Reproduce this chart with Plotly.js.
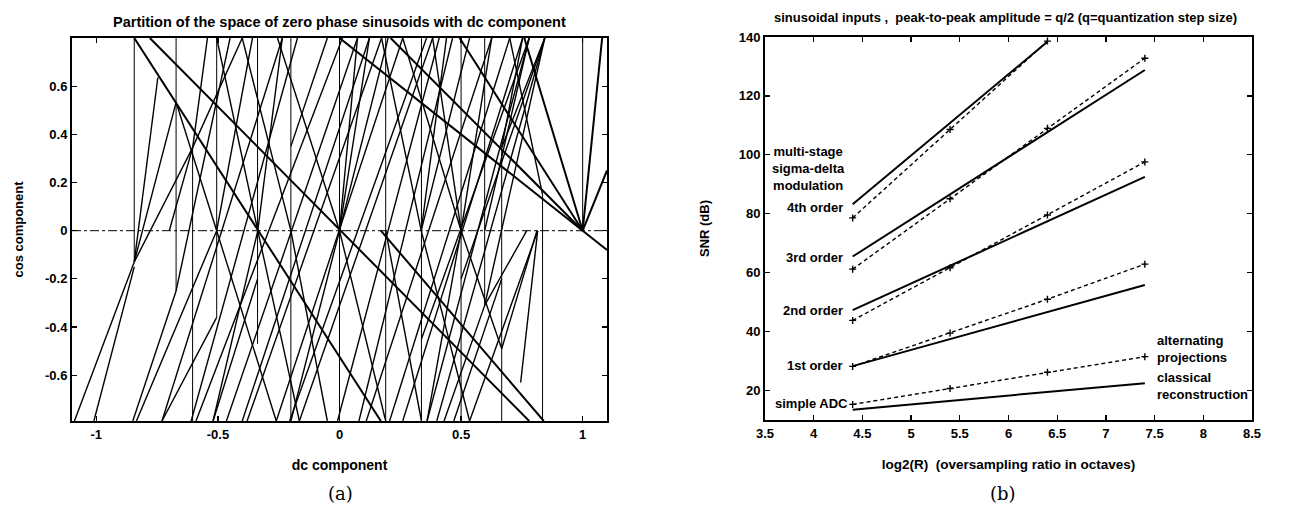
<!DOCTYPE html>
<html>
<head>
<meta charset="utf-8">
<script src="https://cdn.plot.ly/plotly-3.0.1.min.js"></script>
<style>
html,body{margin:0;padding:0;background:#fff;}
#chart{width:1314px;height:511px;}
</style>
</head>
<body>
<div id="chart"></div>
<script>
// ---------- Panel (a): partition lines ----------
const vertX   = [-0.844, -0.672, -0.604, -0.505, -0.337, -0.2, 0.0, 0.19, 0.337, 0.5, 0.597, 0.667, 0.835, 1.0];
const vertTop = [0.8, 0.8, 0.345, 0.8, 0.8, 0.8, 0.8, 0.8, 0.8, 0.8, 0.8, 0.345, 0.15, 0.8];
const vertBot = [-0.13, -0.25, -0.79, -0.36, -0.47, -0.79, -0.77, -0.79, -0.79, -0.79, -0.31, -0.79, -0.79, 0.0];

// thick boundary segments [x0, y0, x1, y1]
const thickSegs = [
  [-0.844, 0.8, 0.17, -0.79],
  [-0.78, 0.8, 0.78, -0.79],
  [0.0, 0.8, 1.1, -0.08],
  [0.21, 0.8, 1.0, 0.0],
  [0.494, 0.8, 1.0, 0.0],
  [0.76, 0.8, 1.0, 0.0],
  [0.17, 0.0, 0.84, -0.79],
  [1.0, 0.0, 1.1, 0.25],
  [1.0, 0.0, 1.08, 0.8]
];

// thin boundary segments [x0, y0, x1, y1]
const thinSegs = [
  [-1.09, -0.79, -0.844, -0.13],
  [-1.01, -0.79, -0.844, -0.15],
  [-0.844, -0.13, -0.747, 0.636],
  [-0.844, -0.13, -0.672, 0.533],
  [-0.844, -0.13, -0.604, 0.345],
  [-0.85, -0.79, -0.672, -0.25],
  [-0.835, -0.79, -0.505, 0.0],
  [-0.73, -0.79, -0.505, -0.36],
  [-0.604, 0.345, -0.543, 0.8],
  [-0.604, 0.345, -0.40, 0.8],
  [-0.604, 0.345, -0.70, 0.0],
  [-0.505, 0.0, -0.358, 0.8],
  [-0.505, 0.0, -0.26, -0.79],
  [-0.505, 0.0, -0.672, 0.533],
  [-0.336, 0.0, -0.235, 0.8],
  [-0.336, 0.0, -0.505, 0.8],
  [-0.336, 0.0, -0.52, -0.79],
  [-0.336, 0.0, -0.165, -0.79],
  [0.0, 0.0, -0.255, 0.8],
  [0.0, 0.0, 0.2, 0.8],
  [0.0, 0.0, 0.074, 0.8],
  [0.0, 0.0, 0.123, 0.8],
  [0.0, 0.0, -0.2, -0.79],
  [0.0, 0.0, 0.19, -0.79],
  [0.336, 0.0, 0.44, 0.8],
  [0.336, 0.0, 0.535, 0.8],
  [0.336, 0.0, 0.173, 0.8],
  [0.336, 0.0, 0.535, -0.79],
  [0.5, 0.0, 0.626, 0.8],
  [0.5, 0.0, 0.383, 0.8],
  [0.5, 0.0, 0.36, -0.79],
  [0.5, 0.0, 0.667, -0.49],
  [-0.73, -0.79, -0.235, 0.8],
  [-0.61, -0.79, -0.173, 0.8],
  [-0.59, -0.79, 0.012, 0.8],
  [-0.465, -0.79, 0.074, 0.8],
  [-0.40, -0.79, 0.123, 0.8],
  [-0.38, -0.79, 0.173, 0.8],
  [-0.26, -0.79, 0.26, 0.8],
  [-0.205, -0.79, 0.358, 0.8],
  [-0.165, -0.79, 0.383, 0.8],
  [-0.008, -0.79, 0.41, 0.8],
  [0.08, -0.79, 0.465, 0.8],
  [0.11, -0.79, 0.626, 0.8],
  [0.206, -0.79, 0.70, 0.8],
  [0.26, -0.79, 0.753, 0.8],
  [0.36, -0.79, 0.78, 0.8],
  [0.40, -0.79, 0.844, 0.8],
  [0.535, -0.79, 0.815, 0.0],
  [0.745, -0.63, 0.815, 0.0],
  [0.667, -0.49, 0.812, 0.0],
  [0.597, -0.31, 0.77, 0.0],
  [0.597, -0.31, 0.844, 0.8],
  [0.667, 0.345, 0.844, 0.8],
  [0.667, 0.345, 0.753, 0.8],
  [0.70, 0.8, 0.835, 0.15],
  [-0.40, 0.8, -0.2, 0.0],
  [0.26, 0.8, 0.5, 0.0],
  [0.337, -0.45, 0.78, 0.8],
  [0.5, -0.2, 0.844, 0.8],
  [0.597, 0.0, 0.78, 0.8],
  [0.43, -0.79, 0.597, -0.31],
  [0.47, -0.79, 0.667, -0.2],
  [-0.52, -0.79, -0.337, -0.2],
  [-0.2, 0.0, -0.05, -0.79],
  [0.19, 0.0, 0.337, -0.79],
  [-0.2, 0.35, -0.05, 0.8],
  [-0.672, -0.25, -0.45, 0.8]
];

const aTickVals = [-1, -0.5, 0, 0.5, 1];
const aTickText = ['-1', '-0.5', '0', '0.5', '1'];
const aYTickVals = [-0.6, -0.4, -0.2, 0, 0.2, 0.4, 0.6];
const aYTickText = ['-0.6', '-0.4', '-0.2', '0', '0.2', '0.4', '0.6'];
const aXRange = [-1.1, 1.1];
const aYRange = [-0.79, 0.8];

// ---------- Panel (b): SNR vs oversampling ----------
const octaves = [4.4, 5.4, 6.4, 7.4];
const octaves4 = [4.4, 5.4, 6.4];
const adcClassical = [13.5, 16.5, 19.5, 22.5];
const adcAlternating = [15.3, 20.7, 26.2, 31.5];
const sd1Classical = [28.3, 37.4, 46.5, 55.8];
const sd1Alternating = [28.2, 39.5, 51.0, 62.9];
const sd2Classical = [47.3, 62.3, 77.4, 92.5];
const sd2Alternating = [43.8, 61.7, 79.6, 97.6];
const sd3Classical = [65.5, 86.6, 107.6, 128.8];
const sd3Alternating = [61.2, 85.1, 109.0, 132.8];
const sd4Classical = [83.2, 110.8, 138.4];
const sd4Alternating = [78.6, 108.6, 138.6];
const bXTickVals = [3.5, 4, 4.5, 5, 5.5, 6, 6.5, 7, 7.5, 8, 8.5];
const bXTickText = ['3.5', '4', '4.5', '5', '5.5', '6', '6.5', '7', '7.5', '8', '8.5'];
const bYTickVals = [20, 40, 60, 80, 100, 120, 140];

function segLines(segs) {
  const x = [], y = [];
  segs.forEach(s => { x.push(s[0], s[2], null); y.push(s[1], s[3], null); });
  return {x, y};
}
function vertLines() {
  const x = [], y = [];
  vertX.forEach((v, i) => { x.push(v, v, null); y.push(vertTop[i], vertBot[i], null); });
  return {x, y};
}

const FONT = 'Liberation Sans, Arial, Helvetica, sans-serif';
const BOLD = 'bold';
function f(size) { return {family: FONT, size: size, color: '#000', weight: BOLD}; }

const traces = [];
const vl = vertLines();
traces.push({x: vl.x, y: vl.y, mode: 'lines', line: {color: '#000', width: 1}, xaxis: 'x', yaxis: 'y', hoverinfo: 'skip'});
const tl = segLines(thinSegs);
traces.push({x: tl.x, y: tl.y, mode: 'lines', line: {color: '#000', width: 1.4}, xaxis: 'x', yaxis: 'y', hoverinfo: 'skip'});
const kl = segLines(thickSegs);
traces.push({x: kl.x, y: kl.y, mode: 'lines', line: {color: '#000', width: 2}, xaxis: 'x', yaxis: 'y', hoverinfo: 'skip'});
traces.push({x: aXRange, y: [0, 0], mode: 'lines', line: {color: '#000', width: 1, dash: 'dashdot'}, xaxis: 'x', yaxis: 'y', hoverinfo: 'skip'});

function solid(ys, xs) {
  return {x: xs || octaves, y: ys, mode: 'lines', line: {color: '#000', width: 2}, xaxis: 'x2', yaxis: 'y2'};
}
function dashed(ys, xs) {
  return {x: xs || octaves, y: ys, mode: 'lines+markers', line: {color: '#000', width: 1.4, dash: '4px,3px'},
          marker: {symbol: 'cross-thin', size: 5, line: {color: '#000', width: 1.4}}, xaxis: 'x2', yaxis: 'y2', cliponaxis: false};
}
traces.push(solid(adcClassical), dashed(adcAlternating));
traces.push(solid(sd1Classical), dashed(sd1Alternating));
traces.push(solid(sd2Classical), dashed(sd2Alternating));
traces.push(solid(sd3Classical), dashed(sd3Alternating));
traces.push(solid(sd4Classical, octaves4), dashed(sd4Alternating, octaves4));

const axBase = {
  showline: true, linecolor: '#000', linewidth: 2, mirror: 'allticks', ticks: 'inside', ticklen: 5,
  tickcolor: '#000', tickwidth: 1.2, showgrid: false, zeroline: false, automargin: false,
  tickfont: f(13)
};

const layout = {
  width: 1314, height: 511, margin: {l: 0, r: 0, t: 0, b: 0},
  paper_bgcolor: '#fff', plot_bgcolor: '#fff', showlegend: false,
  font: {family: FONT, color: '#000'},
  xaxis: Object.assign({}, axBase, {domain: [72/1314, 607/1314], range: aXRange, anchor: 'y',
    tickmode: 'array', tickvals: aTickVals, ticktext: aTickText,
    title: {text: 'dc component', font: f(14), standoff: 20}}),
  yaxis: Object.assign({}, axBase, {domain: [(511-421)/511, (511-38)/511], range: aYRange, anchor: 'x',
    tickmode: 'array', tickvals: aYTickVals, ticktext: aYTickText,
    title: {text: 'cos component', font: f(13), standoff: 18}}),
  xaxis2: Object.assign({}, axBase, {domain: [765/1314, 1252/1314], range: [3.5, 8.5], anchor: 'y2',
    tickmode: 'array', tickvals: bXTickVals, ticktext: bXTickText,
    title: {text: 'log2(R)  (oversampling ratio in octaves)', font: f(13.5), standoff: 20}}),
  yaxis2: Object.assign({}, axBase, {domain: [(511-420)/511, (511-37)/511], range: [10, 140], anchor: 'x2',
    tickmode: 'array', tickvals: bYTickVals,
    title: {text: 'SNR (dB)', font: f(13), standoff: 26}}),
  annotations: [
    {xref: 'paper', yref: 'paper', x: 339/1314, y: (511-22)/511, text: 'Partition of the space of zero phase sinusoids with dc component',
     showarrow: false, xanchor: 'center', yanchor: 'middle', font: f(14.5)},
    {xref: 'paper', yref: 'paper', x: 1005/1314, y: (511-17)/511, text: 'sinusoidal inputs ,  peak-to-peak amplitude = q/2 (q=quantization step size)',
     showarrow: false, xanchor: 'center', yanchor: 'middle', font: f(13)},
    {xref: 'paper', yref: 'paper', x: 340/1314, y: (511-493)/511, text: '(a)', showarrow: false, xanchor: 'center', yanchor: 'middle',
     font: {family: 'DejaVu Serif, Liberation Serif, serif', size: 18, color: '#000'}},
    {xref: 'paper', yref: 'paper', x: 1003/1314, y: (511-493)/511, text: '(b)', showarrow: false, xanchor: 'center', yanchor: 'middle',
     font: {family: 'DejaVu Serif, Liberation Serif, serif', size: 18, color: '#000'}},
    {xref: 'x2', yref: 'y2', x: 3.95, y: 95.4, text: 'multi-stage<br>sigma-delta<br>modulation', showarrow: false,
     xanchor: 'center', yanchor: 'middle', align: 'center', font: f(13)},
    {xref: 'x2', yref: 'y2', x: 4.32, y: 82.0, text: '4th order', showarrow: false, xanchor: 'right', yanchor: 'middle', font: f(13)},
    {xref: 'x2', yref: 'y2', x: 4.32, y: 65.3, text: '3rd order', showarrow: false, xanchor: 'right', yanchor: 'middle', font: f(13)},
    {xref: 'x2', yref: 'y2', x: 4.32, y: 47.2, text: '2nd order', showarrow: false, xanchor: 'right', yanchor: 'middle', font: f(13)},
    {xref: 'x2', yref: 'y2', x: 4.32, y: 28.5, text: '1st order', showarrow: false, xanchor: 'right', yanchor: 'middle', font: f(13)},
    {xref: 'x2', yref: 'y2', x: 4.37, y: 15.6, text: 'simple ADC', showarrow: false, xanchor: 'right', yanchor: 'middle', font: f(13)},
    {xref: 'x2', yref: 'y2', x: 7.5, y: 34.2, text: 'alternating<br>projections', showarrow: false, xanchor: 'left', yanchor: 'middle', align: 'left', font: f(13)},
    {xref: 'x2', yref: 'y2', x: 7.5, y: 21.5, text: 'classical<br>reconstruction', showarrow: false, xanchor: 'left', yanchor: 'middle', align: 'left', font: f(13)}
  ]
};

Plotly.newPlot('chart', traces, layout, {staticPlot: true, displayModeBar: false});
</script>
</body>
</html>
